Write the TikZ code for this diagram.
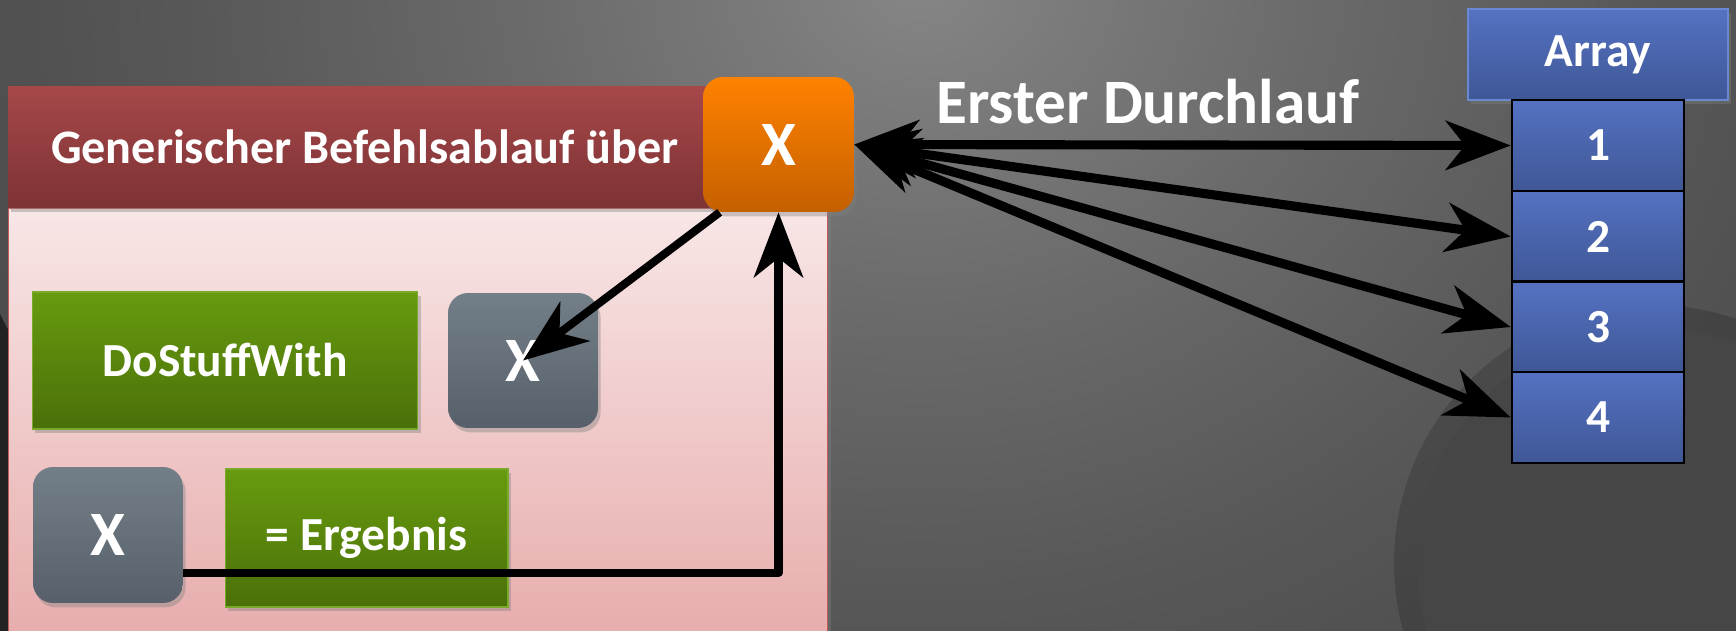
\documentclass[tikz,border=0pt]{standalone}
\usepackage{fontspec}
\setmainfont{Carlito}
\usetikzlibrary{arrows.meta,shadows}
\definecolor{bg0}{HTML}{868686}
\definecolor{bg1}{HTML}{7A7A7A}
\definecolor{bg2}{HTML}{6A6A6A}
\definecolor{bg3}{HTML}{585858}
\definecolor{bg4}{HTML}{4B4B4B}
\definecolor{bg5}{HTML}{424242}
\definecolor{bg6}{HTML}{373737}
\definecolor{bg7}{HTML}{2A2A2A}
\definecolor{bg8}{HTML}{222222}
\definecolor{bglight}{HTML}{464646}
\definecolor{hdrtop}{HTML}{A6484A}
\definecolor{hdrbot}{HTML}{7D3234}
\definecolor{pinktop}{HTML}{F8E6E6}
\definecolor{pinkbot}{HTML}{E7ABAB}
\definecolor{pinkbord}{HTML}{C25B5B}
\definecolor{orgtop}{HTML}{FF8200}
\definecolor{orgbot}{HTML}{C46000}
\definecolor{grntop}{HTML}{689B0F}
\definecolor{grnbot}{HTML}{4A7009}
\definecolor{grnbord}{HTML}{7AAA2C}
\definecolor{graytop}{HTML}{737F88}
\definecolor{graybot}{HTML}{57606A}
\definecolor{bluetop}{HTML}{5572C2}
\definecolor{bluebot}{HTML}{3F5796}
\definecolor{bluebord}{HTML}{6A88D2}
\pgfdeclareradialshading{bgshade}{\pgfpoint{0bp}{0bp}}{color(0bp)=(bg0); color(4bp)=(bg1); color(10bp)=(bg2); color(18bp)=(bg3); color(26bp)=(bg4); color(34bp)=(bg5); color(40bp)=(bg6); color(45bp)=(bg7); color(50bp)=(bg8)}
\tikzset{
  boxshadow/.style={drop shadow={shadow xshift=1.5pt, shadow yshift=-2.5pt, opacity=0.4}},
  txt/.style={text=white, font=\bfseries\fontsize{27}{32}\selectfont},
  bigx/.style={text=white, font=\bfseries\fontsize{36}{40}\selectfont},
  greenbox/.style={boxshadow, draw=grnbord, line width=0.6pt, top color=grntop, bottom color=grnbot, inner sep=0pt, txt},
  graybox/.style={boxshadow, rounded corners=0.4cm, top color=graytop, bottom color=graybot, inner sep=0pt, bigx, minimum width=3.0cm, minimum height=2.72cm},
  cellbox/.style={draw=black, line width=1.5pt, top color=bluetop, bottom color=bluebot, inner sep=0pt, txt, minimum width=3.44cm, minimum height=1.82cm},
  thickarrow/.style={line width=5.2pt},
  midarrow/.style={line width=4.6pt, line join=round},
  >={Stealth[length=37pt,width=28pt,inset=11pt]}
}
\begin{document}
\begin{tikzpicture}[x=0.02cm, y=-0.02cm]
\useasboundingbox (0,0) rectangle (1736,631);
\begin{scope}
\clip (0,0) rectangle (1736,631);
% background
\fill[bg8] (0,0) rectangle (1736,631);
\shade[shading=bgshade] (920,-20) ellipse [x radius=1000, y radius=850];
\fill[black, opacity=0.16] (1652,563) circle (258);
\fill[bglight] (1652,563) circle (235);
% left frame
\node[boxshadow, draw=pinkbord, line width=0.6pt, top color=pinktop, bottom color=pinkbot, minimum width=16.4cm, minimum height=8.84cm, inner sep=0pt] (body) at (418,429) {};
\node[boxshadow, top color=hdrtop, bottom color=hdrbot, minimum width=16.4cm, minimum height=2.44cm, inner sep=0pt] (header) at (418,147) {};
\node[text=white, font=\bfseries\fontsize{27.4}{32}\selectfont] (htext) at (365,147) {Generischer Befehlsablauf über};
\node[boxshadow, rounded corners=0.4cm, top color=orgtop, bottom color=orgbot, minimum width=3.02cm, minimum height=2.7cm, inner sep=0pt, bigx] (orange) at (778.5,144.5) {X};
\node[greenbox, minimum width=7.72cm, minimum height=2.74cm] (dostuff) at (225,360.5) {DoStuffWith};
\node[graybox, minimum height=2.7cm] (gx1) at (523,360.5) {X};
\node[graybox] (gx2) at (108,535) {X};
\node[greenbox, minimum width=5.66cm, minimum height=2.76cm] (erg) at (366.5,538) {= Ergebnis};
% array
\node[boxshadow, draw=bluebord, line width=0.8pt, top color=bluetop, bottom color=bluebot, inner sep=0pt, txt, minimum width=5.2cm, minimum height=1.82cm] (arrhdr) at (1598,54.5) {Array};
\node[cellbox] (c1) at (1598,145.5) {1};
\node[cellbox] (c2) at (1598,236.5) {2};
\node[cellbox] (c3) at (1598,327) {3};
\node[cellbox] (c4) at (1598,417.5) {4};
\node[text=white, font=\bfseries\fontsize{36}{42}\selectfont, anchor=base] (title) at (1148,124) {Erster Durchlauf};
% connectors
\draw[thickarrow, <->] (orange.east) -- (c1.west);
\draw[thickarrow, <->] (orange.east) -- (c2.west);
\draw[thickarrow, <->] (orange.east) -- (c3.west);
\draw[thickarrow, <->] (orange.east) -- (c4.west);
\draw[midarrow, ->] ([xshift=0.34cm]orange.south west) -- (gx1.center);
\draw[midarrow, ->] ([yshift=-0.76cm]gx2.east) -| (orange.south);
\end{scope}
\end{tikzpicture}
\end{document}
